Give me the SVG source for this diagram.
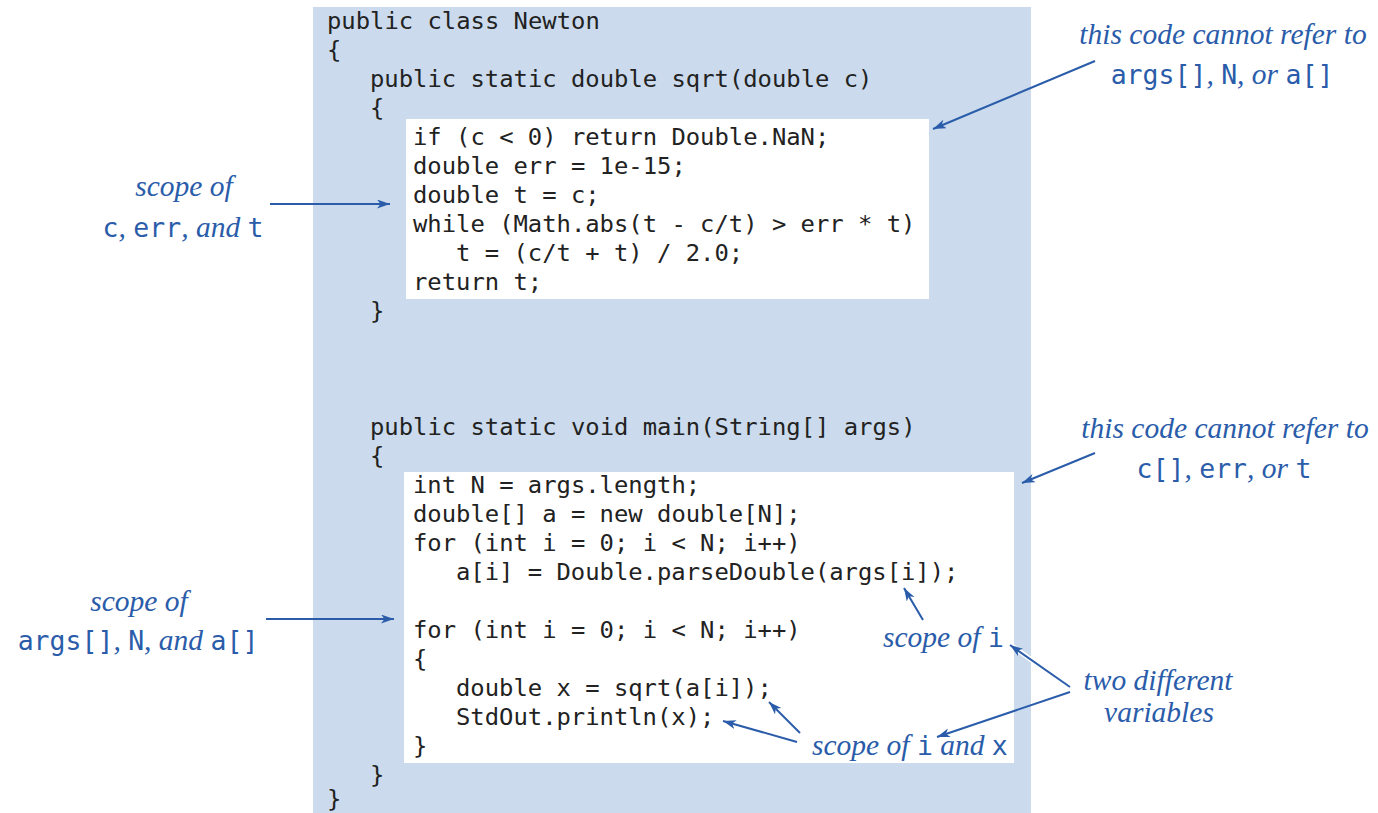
<svg xmlns="http://www.w3.org/2000/svg" width="1378" height="813" viewBox="0 0 1378 813">
  <style>
    .code { font-family: "DejaVu Sans Mono", "Liberation Mono", monospace; font-size: 23.85px; fill: #222222; }
    .note { font-family: "Liberation Serif", "DejaVu Serif", serif; font-style: italic; font-size: 29.5px; fill: #2a5caa; }
    .mono { font-family: "DejaVu Sans Mono", "Liberation Mono", monospace; font-style: normal; font-size: 26.5px; fill: #2a5caa; }
    .arrow { stroke: #2a5caa; stroke-width: 2; fill: none; marker-end: url(#head); }
    .halo { stroke: #ffffff; stroke-width: 5; fill: none; }
  </style>
  <defs>
    <marker id="head" markerUnits="userSpaceOnUse" markerWidth="14" markerHeight="10" refX="13" refY="4.5" orient="auto">
      <path d="M0,0 L13,4.5 L0,9 L3.5,4.5 z" fill="#2a5caa"/>
    </marker>
  </defs>

  <!-- class body background -->
  <g id="class-newton">
    <rect x="313" y="7" width="718" height="806" fill="#cbdbed"/>
    <text class="code" x="327" y="29">public class Newton</text>
    <text class="code" x="327" y="58">{</text>
    <text class="code" x="327" y="807">}</text>
  </g>

  <!-- sqrt method -->
  <g id="method-sqrt">
    <text class="code" x="370" y="87">public static double sqrt(double c)</text>
    <text class="code" x="370" y="116">{</text>
    <rect x="406" y="119" width="523" height="180" fill="#ffffff"/>
    <text class="code" x="413" y="145">if (c &lt; 0) return Double.NaN;</text>
    <text class="code" x="413" y="174">double err = 1e-15;</text>
    <text class="code" x="413" y="203">double t = c;</text>
    <text class="code" x="413" y="232">while (Math.abs(t - c/t) &gt; err * t)</text>
    <text class="code" x="456" y="261">t = (c/t + t) / 2.0;</text>
    <text class="code" x="413" y="290">return t;</text>
    <text class="code" x="370" y="319">}</text>
  </g>

  <!-- main method -->
  <g id="method-main">
    <text class="code" x="370" y="435">public static void main(String[] args)</text>
    <text class="code" x="370" y="464">{</text>
    <rect x="404" y="472" width="610" height="291" fill="#ffffff"/>
    <text class="code" x="413" y="493">int N = args.length;</text>
    <text class="code" x="413" y="522">double[] a = new double[N];</text>
    <text class="code" x="413" y="551">for (int i = 0; i &lt; N; i++)</text>
    <text class="code" x="456" y="580">a[i] = Double.parseDouble(args[i]);</text>
    <text class="code" x="413" y="638">for (int i = 0; i &lt; N; i++)</text>
    <text class="code" x="413" y="667">{</text>
    <text class="code" x="456" y="696">double x = sqrt(a[i]);</text>
    <text class="code" x="456" y="725">StdOut.println(x);</text>
    <text class="code" x="413" y="754">}</text>
    <text class="code" x="370" y="783">}</text>
  </g>

  <!-- annotation labels -->
  <g id="note-sqrt-cannot">
    <text class="note" x="1223" y="44" text-anchor="middle">this code cannot refer to</text>
    <text class="note" x="1222" y="84" text-anchor="middle"><tspan class="mono">args[]</tspan>, <tspan class="mono">N</tspan>, or <tspan class="mono">a[]</tspan></text>
  </g>
  <g id="note-scope-sqrt">
    <text class="note" x="184" y="196" text-anchor="middle">scope of</text>
    <text class="note" x="183" y="237" text-anchor="middle"><tspan class="mono">c</tspan>, <tspan class="mono">err</tspan>, and <tspan class="mono">t</tspan></text>
  </g>
  <g id="note-scope-main">
    <text class="note" x="139" y="611" text-anchor="middle">scope of</text>
    <text class="note" x="138" y="650" text-anchor="middle"><tspan class="mono">args[]</tspan>, <tspan class="mono">N</tspan>, and <tspan class="mono">a[]</tspan></text>
  </g>
  <g id="note-main-cannot">
    <text class="note" x="1225" y="438" text-anchor="middle">this code cannot refer to</text>
    <text class="note" x="1224" y="478" text-anchor="middle"><tspan class="mono">c[]</tspan>, <tspan class="mono">err</tspan>, or <tspan class="mono">t</tspan></text>
  </g>
  <g id="note-scope-i">
    <text class="note" x="883" y="647">scope of <tspan class="mono">i</tspan></text>
  </g>
  <g id="note-two-vars">
    <text class="note" x="1158" y="690" text-anchor="middle">two different</text>
    <text class="note" x="1159" y="722" text-anchor="middle">variables</text>
  </g>
  <g id="note-scope-ix">
    <text class="note" x="812" y="755">scope of <tspan class="mono">i</tspan> and <tspan class="mono">x</tspan></text>
  </g>

  <!-- connectors -->
  <g id="connectors">
    <line class="arrow" x1="1095" y1="61" x2="933" y2="129"/>
    <line class="arrow" x1="270" y1="204" x2="390" y2="204"/>
    <line class="arrow" x1="266" y1="619" x2="394" y2="619"/>
    <line class="arrow" x1="1095" y1="453" x2="1022" y2="483"/>
    <line class="arrow" x1="923" y1="620" x2="904" y2="588"/>
    <line class="halo" x1="1068" y1="686" x2="1012" y2="646"/>
    <line class="arrow" x1="1070" y1="687" x2="1010" y2="645"/>
    <line class="arrow" x1="1070" y1="692" x2="937" y2="737"/>
    <line class="arrow" x1="800" y1="733" x2="769" y2="702"/>
    <line class="arrow" x1="797" y1="742" x2="723" y2="721"/>
  </g>
</svg>
